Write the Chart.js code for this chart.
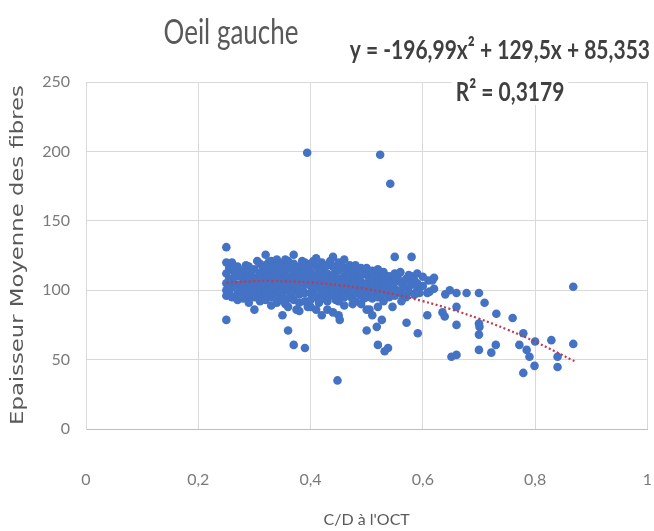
<!DOCTYPE html>
<html>
<head>
<meta charset="utf-8">
<script src="https://cdn.jsdelivr.net/npm/chart.js@4.4.1/dist/chart.umd.min.js"></script>
<style>
  html, body { margin: 0; padding: 0; background: #ffffff; }
</style>
</head>
<body>
<canvas id="c" width="654" height="531"></canvas>
<script>
// ---- Data ----
const chartTitle = 'Oeil gauche';
const equationText = 'y = -196,99x² + 129,5x + 85,353';
const r2Text = 'R² = 0,3179';
const xAxisTitle = "C/D à l'OCT";
const yAxisTitle = 'Epaisseur Moyenne des fibres';
const xTickLabels = ['0', '0,2', '0,4', '0,6', '0,8', '1'];
const yTickLabels = ['0', '50', '100', '150', '200', '250'];

// observations: [C/D, thickness]
const observations = [
  [0.25,131],[0.25,120],[0.25,112],[0.25,105],[0.25,100],[0.25,96],[0.25,78.6],
  [0.255,116],[0.255,108],[0.255,98],
  [0.26,120],[0.26,115],[0.26,108],[0.26,102],[0.26,95],
  [0.265,112],[0.265,104],
  [0.27,117],[0.27,110],[0.27,104],[0.27,98],[0.27,93],
  [0.275,114],[0.275,100],
  [0.28,113],[0.28,108],[0.28,103],[0.28,99],[0.28,94],
  [0.285,118],[0.285,106],[0.285,97],
  [0.29,117],[0.29,111],[0.29,106],[0.29,101],[0.29,96],[0.29,91],
  [0.295,114],[0.295,103],
  [0.30,115],[0.30,109],[0.30,104],[0.30,100],[0.30,95],[0.30,86],
  [0.305,121],[0.305,107],[0.305,98],
  [0.31,119],[0.31,112],[0.31,107],[0.31,102],[0.31,97],[0.31,92],
  [0.315,115],[0.315,104],[0.315,94],
  [0.32,125.5],[0.32,118],[0.32,113],[0.32,108],[0.32,103],[0.32,98],[0.32,93],
  [0.325,120],[0.325,110],[0.325,101],
  [0.33,121],[0.33,115],[0.33,110],[0.33,105],[0.33,100],[0.33,95],[0.33,89],
  [0.335,117],[0.335,107],[0.335,97],
  [0.34,122],[0.34,116],[0.34,111],[0.34,106],[0.34,101],[0.34,96],[0.34,91],
  [0.345,119],[0.345,109],[0.345,99],
  [0.35,118],[0.35,113],[0.35,108],[0.35,103],[0.35,98],[0.35,93],[0.35,82],
  [0.355,122],[0.355,111],[0.355,101],[0.355,90],
  [0.36,121],[0.36,116],[0.36,110],[0.36,105],[0.36,100],[0.36,94],[0.36,88],[0.36,71],
  [0.365,118],[0.365,107],[0.365,97],
  [0.37,125.5],[0.37,119],[0.37,113],[0.37,108],[0.37,104],[0.37,99],[0.37,93],[0.37,60.6],
  [0.375,115],[0.375,102],[0.375,86],
  [0.38,117],[0.38,112],[0.38,107],[0.38,102],[0.38,97],[0.38,91],[0.38,85],
  [0.385,121],[0.385,110],[0.385,100],
  [0.39,120],[0.39,114],[0.39,109],[0.39,104],[0.39,98],[0.39,92],[0.39,58.4],[0.394,199],
  [0.395,117],[0.395,106],[0.395,88],
  [0.40,119],[0.40,113],[0.40,108],[0.40,103],[0.40,98],[0.40,93],[0.40,88],
  [0.405,121],[0.405,110],[0.405,100],
  [0.41,123],[0.41,117],[0.41,111],[0.41,106],[0.41,101],[0.41,95],[0.41,86],
  [0.415,115],[0.415,104],[0.415,91],
  [0.42,120],[0.42,114],[0.42,109],[0.42,104],[0.42,99],[0.42,94],[0.42,82],
  [0.425,117],[0.425,107],[0.425,97],
  [0.43,118],[0.43,112],[0.43,107],[0.43,102],[0.43,97],[0.43,92],[0.43,86],
  [0.435,121],[0.435,110],[0.435,100],
  [0.44,124],[0.44,117],[0.44,111],[0.44,106],[0.44,101],[0.44,96],[0.44,84],
  [0.445,114],[0.445,104],[0.445,93],
  [0.45,120],[0.45,114],[0.45,108],[0.45,103],[0.45,98],[0.45,92],[0.45,82],[0.452,78.6],[0.448,35],
  [0.455,117],[0.455,106],[0.455,96],
  [0.46,122],[0.46,116],[0.46,110],[0.46,105],[0.46,100],[0.46,95],[0.46,89],
  [0.465,113],[0.465,102],
  [0.47,118],[0.47,112],[0.47,107],[0.47,102],[0.47,97],[0.473,94.5],
  [0.475,115],[0.475,104],[0.475,90],
  [0.48,118],[0.48,113],[0.48,108],[0.48,103],[0.48,98],[0.48,92],
  [0.485,111],[0.485,100],
  [0.49,116],[0.49,111],[0.49,106],[0.49,101],[0.49,96],[0.49,90],
  [0.495,113],[0.495,103],[0.495,94],
  [0.50,116],[0.50,111],[0.50,105],[0.50,100],[0.50,95],[0.50,86],[0.50,71],
  [0.505,109],[0.505,98],[0.505,86],
  [0.51,114],[0.51,109],[0.51,104],[0.51,99],[0.51,94],[0.51,82],
  [0.515,111],[0.515,101],
  [0.52,115],[0.52,110],[0.52,105],[0.52,100],[0.52,95],[0.52,88],[0.518,73.6],[0.52,60.6],[0.524,197.6],
  [0.525,108],[0.525,97],[0.527,78.6],
  [0.53,113],[0.53,108],[0.53,103],[0.53,98],[0.53,92],[0.532,56],
  [0.535,110],[0.535,100],[0.538,58.4],
  [0.54,110],[0.54,105],[0.54,100],[0.54,95],[0.542,176.7],
  [0.545,107],[0.545,97],[0.546,88],
  [0.55,124],[0.55,112],[0.55,106],[0.55,101],[0.55,96],
  [0.555,109],[0.555,99],
  [0.56,113],[0.56,106],[0.56,100],[0.562,92],
  [0.565,104],[0.565,96],
  [0.57,108],[0.57,102],[0.57,95],[0.571,76.5],
  [0.575,111],[0.575,99],
  [0.58,124],[0.58,110],[0.58,104],[0.585,96.7],
  [0.585,107],[0.59,100],
  [0.59,112],[0.59,105],[0.594,98],[0.591,69],
  [0.60,109.7],[0.60,103],[0.608,98],
  [0.61,107],[0.612,99],[0.608,82],
  [0.617,107],
  [0.62,109],[0.62,101],
  [0.635,84],
  [0.64,97],[0.639,81],
  [0.648,100],[0.651,52],
  [0.66,98],[0.66,88],[0.66,75],[0.66,53.4],
  [0.678,98],
  [0.70,98],[0.70,76],[0.701,73.6],[0.70,68],[0.70,57],
  [0.71,91],
  [0.722,55],
  [0.731,83],[0.73,60.6],
  [0.76,80],
  [0.772,60.6],
  [0.779,69],[0.779,40.4],
  [0.785,57],
  [0.79,52],
  [0.80,63],[0.799,45.5],
  [0.829,64],
  [0.84,52],[0.84,44.7],
  [0.868,102.5],[0.868,61.3]
];

// polynomial trend line
const trendX = [0.25, 0.30, 0.33, 0.40, 0.45, 0.50, 0.55, 0.60, 0.65, 0.70, 0.75, 0.80, 0.87];
const trendY = [105.4, 106.5, 106.6, 105.6, 103.7, 100.9, 97.0, 92.1, 86.3, 79.5, 71.7, 62.9, 48.9];

// ---- Drawing ----
function drawStretched(ctx, text, x, y, sx, sy, rot) {
  ctx.save();
  ctx.translate(x, y);
  if (rot) ctx.rotate(rot);
  ctx.scale(sx, sy);
  ctx.fillText(text, 0, 0);
  ctx.restore();
}

const textPlugin = {
  id: 'textLabels',
  afterDraw(chart) {
    const ctx = chart.ctx;
    ctx.save();
    ctx.textBaseline = 'middle';
    ctx.textAlign = 'center';

    ctx.fillStyle = '#595959';
    ctx.font = '26px Lato';
    drawStretched(ctx, chartTitle, 231, 33, 1, 1.3, 0);

    ctx.font = '17.5px "DejaVu Sans"';
    drawStretched(ctx, yAxisTitle, 18, 255, 1.3, 1, -Math.PI / 2);

    ctx.font = 'bold 21px Lato';
    ctx.fillStyle = '#404040';
    ctx.textAlign = 'right';
    drawStretched(ctx, equationText, 650, 50, 1, 1.3, 0);

    ctx.textAlign = 'center';
    const w = ctx.measureText(r2Text).width;
    ctx.fillStyle = '#ffffff';
    ctx.fillRect(510 - w / 2 - 4, 92 - 13, w + 8, 26);
    ctx.fillStyle = '#404040';
    drawStretched(ctx, r2Text, 510, 92, 1, 1.3, 0);
    ctx.restore();
  }
};

function build() {
  new Chart(document.getElementById('c'), {
    type: 'scatter',
    data: {
      datasets: [
        {
          label: 'Tendance',
          data: trendX.map((x, i) => ({ x: x, y: trendY[i] })),
          showLine: true,
          borderColor: '#c0394f',
          borderWidth: 2.2,
          borderDash: [2, 2.5],
          pointRadius: 0,
          tension: 0.4,
          order: 0
        },
        {
          label: 'Epaisseur',
          data: observations.map(p => ({ x: p[0], y: p[1] })),
          backgroundColor: '#4472C4',
          borderWidth: 0,
          pointRadius: 4.3,
          order: 1
        }
      ]
    },
    options: {
      responsive: false,
      animation: false,
      devicePixelRatio: 1,
      layout: { padding: { top: 82, right: 6, left: 0, bottom: 0 } },
      plugins: { legend: { display: false }, tooltip: { enabled: false } },
      scales: {
        x: {
          type: 'linear', min: 0, max: 1,
          ticks: {
            stepSize: 0.2, padding: 2, color: '#7a7a7a',
            font: { family: 'Lato', size: 16 },
            callback: (v, i) => xTickLabels[i]
          },
          grid: { color: '#d9d9d9', drawTicks: true, tickLength: 39, tickColor: 'rgba(0,0,0,0)' },
          border: { color: '#bfbfbf' },
          title: {
            display: true, text: xAxisTitle, color: '#595959',
            font: { family: 'Lato', size: 16 }, padding: { top: 0, bottom: 2 }
          },
          afterFit: s => { s.height = 102; }
        },
        y: {
          type: 'linear', min: 0, max: 250,
          ticks: {
            stepSize: 50, padding: 2, color: '#7a7a7a',
            font: { family: 'Lato', size: 16 },
            callback: (v, i) => yTickLabels[i]
          },
          grid: { color: '#d9d9d9', drawTicks: true, tickLength: 14, tickColor: 'rgba(0,0,0,0)' },
          border: { color: '#d9d9d9' },
          title: { display: false },
          afterFit: s => { s.width = 86; }
        }
      }
    },
    plugins: [textPlugin]
  });
}

const fontLoads = [
  document.fonts.load('26px Lato'),
  document.fonts.load('bold 21px Lato'),
  document.fonts.load('17px "DejaVu Sans"')
];
Promise.race([
  Promise.all(fontLoads),
  new Promise(r => setTimeout(r, 800))
]).then(build, build);
</script>
</body>
</html>
